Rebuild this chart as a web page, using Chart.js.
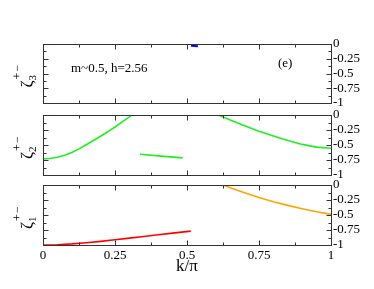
<!DOCTYPE html>
<html>
<head>
<meta charset="utf-8">
<script src="https://cdn.jsdelivr.net/npm/chart.js@4.4.1/dist/chart.umd.min.js"></script>
<style>
  html, body { margin: 0; padding: 0; background: #fff; }
  #wrap { position: relative; width: 374px; height: 289px; overflow: hidden; }
  canvas { position: absolute; left: 0; top: 0; }
</style>
</head>
<body>
<div id="wrap">
  <canvas id="c3" width="374" height="289"></canvas>
  <canvas id="c2" width="374" height="289"></canvas>
  <canvas id="c1" width="374" height="289"></canvas>
</div>
<script>
// ---- data ----
const xTicks = [0, 0.25, 0.5, 0.75, 1];
const xTickLabels = ["0", "0.25", "0.5", "0.75", "1"];
const yTicks = [0, -0.25, -0.5, -0.75, -1];
const yTickLabels = ["0", "-0.25", "-0.5", "-0.75", "-1"];

// zeta_3 panel (top)
const z3BlueK = [0.514, 0.526, 0.538];
const z3BlueV = [-0.03, -0.034, -0.038];

// zeta_2 panel (middle)
const z2aK = [0, 0.025, 0.05, 0.075, 0.1, 0.125, 0.15, 0.175, 0.2, 0.225, 0.25, 0.275, 0.3, 0.308];
const z2aV = [-0.733, -0.725, -0.705, -0.67, -0.625, -0.565, -0.495, -0.425, -0.355, -0.28, -0.2, -0.115, -0.03, 0];
const z2bK = [0.337, 0.41, 0.485];
const z2bV = [-0.655, -0.685, -0.715];
const z2cK = [0.609, 0.65, 0.7, 0.75, 0.8, 0.85, 0.9, 0.95, 1];
const z2cV = [0, -0.085, -0.18, -0.27, -0.35, -0.425, -0.49, -0.535, -0.555];

// zeta_1 panel (bottom)
const z1RedK = [0, 0.05, 0.1, 0.15, 0.2, 0.25, 0.3, 0.35, 0.4, 0.45, 0.513];
const z1RedV = [-1, -0.995, -0.982, -0.963, -0.94, -0.913, -0.885, -0.857, -0.83, -0.802, -0.768];
const z1OrK = [0.626, 0.65, 0.7, 0.75, 0.8, 0.85, 0.9, 0.95, 1];
const z1OrV = [0, -0.045, -0.13, -0.21, -0.28, -0.34, -0.395, -0.445, -0.49];

const pts = (ks, vs) => ks.map((k, i) => ({ x: k, y: vs[i] }));

const SERIF = "'Liberation Serif', 'DejaVu Serif', serif";

function framePlugin(opts) {
  return {
    id: 'frame',
    afterDraw(chart) {
      const ctx = chart.ctx;
      const a = chart.chartArea;
      const xs = chart.scales.x, ys = chart.scales.y;
      ctx.save();
      ctx.strokeStyle = '#333';
      ctx.lineWidth = 1;
      const L = Math.round(a.left) + 0.5, R = Math.round(a.right) + 0.5;
      const T = Math.round(a.top) + 0.5, B = Math.round(a.bottom) + 0.5;
      ctx.strokeRect(L, T, R - L, B - T);
      ctx.beginPath();
      for (let i = 0; i <= 8; i++) {
        const v = i * 0.125;
        const len = (i % 2 === 0) ? 5 : 3;
        const px = Math.round(xs.getPixelForValue(v)) + 0.5;
        ctx.moveTo(px, T); ctx.lineTo(px, T + len);
        ctx.moveTo(px, B); ctx.lineTo(px, B - len);
        const vy = -v;
        const py = Math.round(ys.getPixelForValue(vy)) + 0.5;
        ctx.moveTo(L, py); ctx.lineTo(L + len, py);
        ctx.moveTo(R, py); ctx.lineTo(R - len, py);
      }
      ctx.stroke();

      // left label zeta_n^{+-}
      const cy = (a.top + a.bottom) / 2;
      ctx.fillStyle = '#000';
      ctx.translate(32, cy);
      ctx.rotate(-Math.PI / 2);
      ctx.textBaseline = 'alphabetic';
      ctx.textAlign = 'left';
      ctx.font = "17px " + SERIF;
      const zw = ctx.measureText('ζ').width;
      const x0 = -14;
      ctx.fillText('ζ', x0, 0);
      ctx.font = "11px " + SERIF;
      ctx.fillText(opts.sub, x0 + zw, 4);
      ctx.font = "12px " + SERIF;
      ctx.fillText('+', x0 + zw + 1, -11);
      ctx.fillText('−', x0 + zw + 9, -11);
      ctx.restore();

      if (opts.annot) {
        ctx.save();
        ctx.fillStyle = '#000';
        ctx.font = "13px " + SERIF;
        ctx.textBaseline = 'middle';
        ctx.textAlign = 'left';
        ctx.fillText('m~0.5, h=2.56', 71, 69);
        ctx.fillText('(e)', 278, 64);
        ctx.restore();
      }
    }
  };
}

function makeChart(id, datasets, top, bottom, showX, sub, annot) {
  const ctx = document.getElementById(id);
  const xAxisH = 35;
  const padBottom = showX ? (289 - bottom - xAxisH) : (289 - bottom);
  return new Chart(ctx, {
    type: 'scatter',
    data: { datasets },
    options: {
      responsive: false,
      animation: false,
      devicePixelRatio: 1,
      layout: { padding: { left: 43, right: 0, top: top, bottom: padBottom } },
      plugins: { legend: { display: false }, tooltip: { enabled: false } },
      elements: { point: { radius: 0 }, line: { tension: 0 } },
      scales: {
        x: {
          type: 'linear', min: 0, max: 1,
          display: showX,
          grid: { display: false, drawTicks: false },
          border: { display: false },
          afterBuildTicks: (s) => { s.ticks = xTicks.map(v => ({ value: v })); },
          afterFit: (s) => { s.height = showX ? xAxisH : 0; },
          ticks: {
            autoSkip: false, maxRotation: 0, padding: 3, color: '#000',
            font: { family: SERIF, size: 13 },
            callback: (v) => { const i = xTicks.indexOf(v); return i >= 0 ? xTickLabels[i] : ''; }
          },
          title: { display: true, text: 'k/π', color: '#000', font: { family: SERIF, size: 17 }, padding: { top: 2, bottom: 3 } }
        },
        y: {
          type: 'linear', position: 'right', min: -1, max: 0,
          grid: { display: false, drawTicks: false },
          border: { display: false },
          afterBuildTicks: (s) => { s.ticks = yTicks.map(v => ({ value: v })); },
          afterFit: (s) => { s.width = 43; },
          ticks: {
            autoSkip: false, padding: 2, color: '#000',
            font: { family: SERIF, size: 13 },
            callback: (v) => { const i = yTicks.indexOf(v); return i >= 0 ? yTickLabels[i] : ''; }
          }
        }
      }
    },
    plugins: [framePlugin({ sub, annot })]
  });
}

const line = (data, color, w) => ({ data, showLine: true, borderColor: color, backgroundColor: color, borderWidth: w || 1.6, pointRadius: 0, fill: false });

makeChart('c3', [line(pts(z3BlueK, z3BlueV), '#0000ff', 2)], 44, 103, false, '3', true);
makeChart('c2', [
  line(pts(z2aK, z2aV), '#22ee22'),
  line(pts(z2bK, z2bV), '#22ee22'),
  line(pts(z2cK, z2cV), '#22ee22')
], 115, 175, false, '2', false);
makeChart('c1', [
  line(pts(z1RedK, z1RedV), '#ff0000'),
  line(pts(z1OrK, z1OrV), '#ffa500')
], 185, 245, true, '1', false);
</script>
</body>
</html>
